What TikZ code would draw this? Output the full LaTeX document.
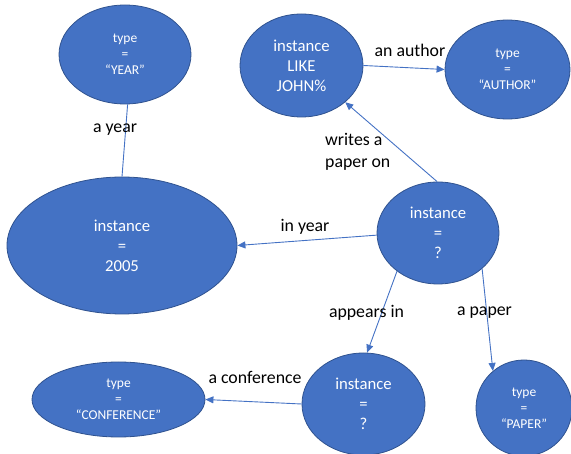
\documentclass[tikz,border=0pt]{standalone}
\usepackage{fontspec}
\setmainfont{Carlito}
\usetikzlibrary{shapes.geometric,arrows.meta}
\definecolor{nodefill}{HTML}{4472C4}
\definecolor{nodeline}{HTML}{2F528F}
\definecolor{edgeblue}{HTML}{4472C4}
\tikzset{
  bubble/.style={ellipse, fill=nodefill, draw=nodeline, line width=0.8pt,
    inner sep=0pt, text=white, align=center},
  bigtext/.style={font=\fontsize{16.7}{20}\selectfont},
  smalltext/.style={font=\fontsize{13.5}{16}\selectfont},
  edgelabel/.style={font=\fontsize{17.8}{22}\selectfont, text=black, inner sep=0pt},
  link/.style={draw=edgeblue, line width=0.9pt},
  arrowlink/.style={link, -{Triangle[length=8pt,width=7pt]}}
}
\begin{document}
\begin{tikzpicture}[x=1pt, y=-1pt]
\useasboundingbox (0,0) rectangle (571,454);

% type nodes
\node[bubble, smalltext, minimum width=132pt, minimum height=99pt] (year) at (125,54.5) {type\\=\\“YEAR”};
\node[bubble, smalltext, minimum width=125pt, minimum height=99pt] (author) at (507.5,69.5) {type\\=\\“AUTHOR”};
\node[bubble, smalltext, minimum width=173pt, minimum height=75pt] (conf) at (118.5,399.5) {type\\=\\“CONFERENCE”};
\node[bubble, smalltext, minimum width=96pt, minimum height=96pt] (paper) at (524,408) {type\\=\\“PAPER”};

% instance nodes
\node[bubble, bigtext, minimum width=123pt, minimum height=103pt] (john) at (301.5,65.5) {instance\\LIKE\\JOHN\%};
\node[bubble, bigtext, minimum width=230pt, minimum height=137pt] (y2005) at (122,245.5) {instance\\=\\2005};
\node[bubble, bigtext, minimum width=122pt, minimum height=102pt] (pub) at (438,233) {instance\\=\\?};
\node[bubble, bigtext, minimum width=123pt, minimum height=102pt] (venue) at (363.5,404) {instance\\=\\?};

% connectors
\draw[link] (year.-87) -- (y2005.90);
\draw[arrowlink] (john.east) -- (author.west);
\draw[arrowlink] (pub.91) -- (john.-40);
\draw[arrowlink] (pub.182) -- (y2005.east);
\draw[arrowlink] (pub.-137) -- (venue.86);
\draw[arrowlink] (pub.-39) -- (paper.130);
\draw[arrowlink] (venue.west) -- (conf.east);

% connector labels
\node[edgelabel] (lyear) at (115,130) {a year};
\node[edgelabel] (lauthor) at (410,50) {an author};
\node[edgelabel, align=left, anchor=west] (lwrites) at (325,152) {writes a\\paper on};
\node[edgelabel] (linyear) at (305,227) {in year};
\node[edgelabel] (lappears) at (366.5,313) {appears in};
\node[edgelabel] (lpaper) at (484.5,313) {a paper};
\node[edgelabel] (lconf) at (255,377) {a conference};
\end{tikzpicture}
\end{document}
